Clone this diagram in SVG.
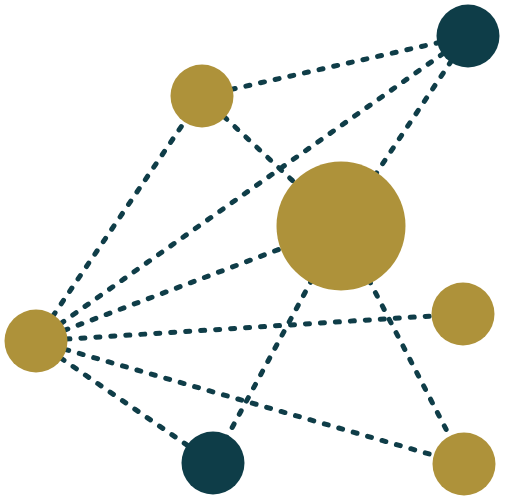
<svg xmlns="http://www.w3.org/2000/svg" width="505" height="499" viewBox="0 0 505 499">
<style>
.e{stroke:#0f3d48;stroke-width:5;stroke-dasharray:4 11;stroke-linecap:round;fill:none}
.g{fill:#ae923a}
.d{fill:#0e3d48}
</style>
<rect width="505" height="499" fill="#fff"/>
<g id="connectors">
<line class="e" x1="202" y1="96" x2="468" y2="36"/>
<line class="e" x1="202" y1="96" x2="341" y2="226"/>
<line class="e" x1="36" y1="341" x2="202" y2="96"/>
<line class="e" x1="36" y1="341" x2="468" y2="36"/>
<line class="e" x1="341" y1="226" x2="468" y2="36"/>
<line class="e" x1="36" y1="341" x2="341" y2="226"/>
<line class="e" x1="36" y1="341" x2="463" y2="314"/>
<line class="e" x1="36" y1="341" x2="213" y2="463"/>
<line class="e" x1="36" y1="341" x2="464" y2="464"/>
<line class="e" x1="341" y1="226" x2="213" y2="463"/>
<line class="e" x1="341" y1="226" x2="464" y2="464"/>
</g>
<g id="n1"><circle class="d" cx="468" cy="36" r="31.5"/></g>
<g id="n2"><circle class="g" cx="202" cy="96" r="31.5"/></g>
<g id="n3"><circle class="g" cx="341" cy="226" r="64.5"/></g>
<g id="n4"><circle class="g" cx="463" cy="314" r="31.5"/></g>
<g id="n5"><circle class="g" cx="36" cy="341" r="31.5"/></g>
<g id="n6"><circle class="d" cx="213" cy="463" r="31.5"/></g>
<g id="n7"><circle class="g" cx="464" cy="464" r="31.5"/></g>
</svg>
